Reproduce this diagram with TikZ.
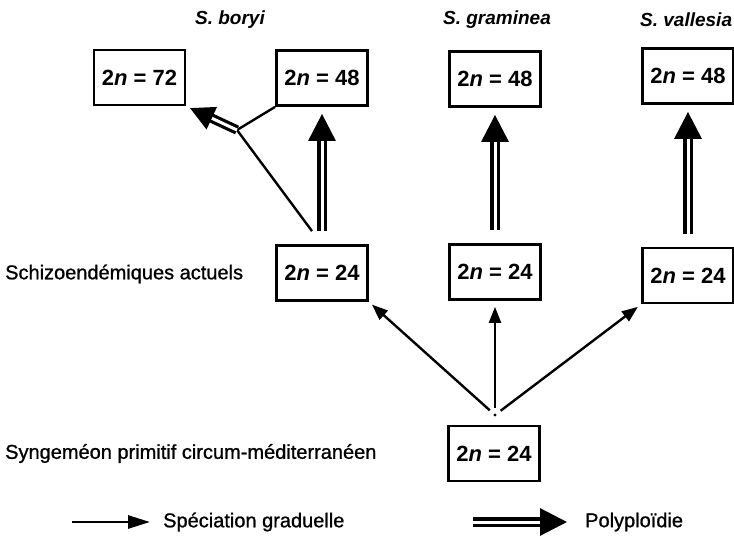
\documentclass[tikz,border=0pt]{standalone}
\usepackage{fontspec}
\setmainfont{Liberation Sans}
\newfontfamily\lblfont[FakeBold=1]{Liberation Sans}
\usetikzlibrary{arrows.meta,calc}
\begin{document}
\begin{tikzpicture}[x=1pt,y=-1pt,
  box/.style={draw, line width=2.8pt, minimum width=91pt, minimum height=55pt, inner sep=0pt,
    font=\fontsize{22}{24}\selectfont\bfseries},
  lbl/.style={font=\lblfont\fontsize{20}{22}\selectfont, anchor=west, inner sep=0pt},
  ttl/.style={font=\fontsize{19}{22}\selectfont\bfseries\itshape, inner sep=0pt},
  spec/.style={line width=2.4pt, -{Triangle[length=16pt,width=12pt]}},
  poly/.style={double, double distance=3pt, line width=3.2pt, -{Triangle[length=27pt,width=27pt]}},
  ]
\useasboundingbox (0,0) rectangle (734,537);
% titles
\node[ttl] (tb) at (230,20) {S. boryi};
\node[ttl] (tg) at (497,20) {S. graminea};
\node[ttl, anchor=west] (tv) at (640,20) {S. vallesia};
% boxes
\node[box] (t72) at (139.5,77.5) {2\textit{n} = 72};
\node[box] (tB) at (322,78) {2\textit{n} = 48};
\node[box] (tG) at (495,79) {2\textit{n} = 48};
\node[box] (tV) at (688,76) {2\textit{n} = 48};
\node[box] (mB) at (322,273) {2\textit{n} = 24};
\node[box] (mG) at (495,272) {2\textit{n} = 24};
\node[box] (mV) at (688,275.5) {2\textit{n} = 24};
\node[box] (bo) at (494,453.5) {2\textit{n} = 24};
% row labels
\node[lbl] (l1) at (5,274) {Schizoendémiques actuels};
\node[lbl] (l2) at (5,453.5) {Syngeméon primitif circum-méditerranéen};
% origin dot and junction
\coordinate (O) at (495,415);
\fill (O) circle (1.6pt);
\coordinate (J) at (237,130);
% speciation arrows
\draw[spec, shorten <=7pt, shorten >=4pt] (O) -- (mB.south east);
\draw[spec, shorten <=7pt, shorten >=6pt] (O) -- (mG.south);
\draw[spec, shorten <=7pt, shorten >=4pt] (O) -- (mV.south west);
% polyploidy arrows
\draw[poly, shorten <=13pt, shorten >=7pt] (mB.north) -- (tB.south);
\draw[poly, shorten <=13pt, shorten >=7pt] (mG.north) -- (tG.south);
\draw[poly, shorten <=13pt, shorten >=7pt] (mV.north) -- (tV.south);
% hybrid (allopolyploid) branch
\draw[line width=2.4pt] ([xshift=-10pt,yshift=13pt]mB.north) -- (J);
\draw[line width=2.4pt] (J) -- (tB.south west);
\draw[poly, -{Triangle[length=24pt,width=24pt]}, shorten >=4pt] (J) -- (t72.south east);
% legend
\coordinate (a1) at (72,522);
\coordinate (a2) at (150,522);
\draw[line width=2.8pt, -{Triangle[length=22pt,width=13pt]}] (a1) -- (a2);
\node[lbl] (leg1) at (163,522) {Spéciation graduelle};
\coordinate (b1) at (473,522);
\coordinate (b2) at (567,522);
\draw[poly] (b1) -- (b2);
\node[lbl] (leg2) at (585,522) {Polyploïdie};
\end{tikzpicture}
\end{document}
